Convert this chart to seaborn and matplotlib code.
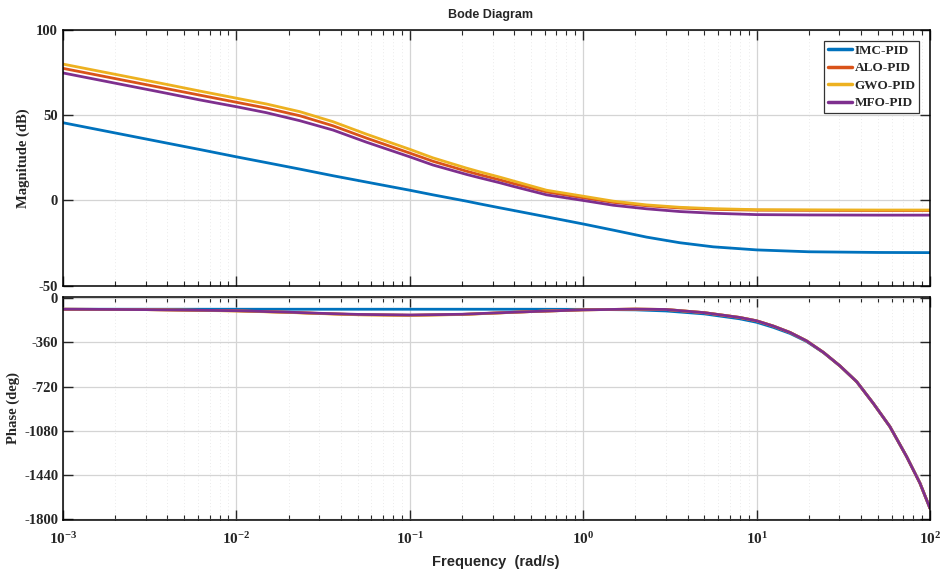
import numpy as np
import pandas as pd
import matplotlib
matplotlib.use('Agg')
import matplotlib.pyplot as plt
import seaborn as sns
from matplotlib.ticker import LogLocator, NullFormatter

# values
controllers = ['IMC-PID', 'ALO-PID', 'GWO-PID', 'MFO-PID']
colors = ['#0072BD', '#D95319', '#EDB120', '#7E2F8E']

w_mag = [0.001, 0.002, 0.004, 0.00614, 0.01, 0.0149, 0.0232, 0.0361, 0.0562,
         0.1, 0.136, 0.212, 0.253, 0.33, 0.394, 0.615, 1, 1.49, 2.32, 3.61,
         5.62, 10, 20, 50, 100]
mag_imc = [45.6, 39.6, 33.6, 29.9, 25.6, 22.2, 18.4, 14.5, 10.8,
           6.0, 3.3, -0.4, -2.0, -4.3, -5.8, -9.6, -13.8, -17.4, -21.5, -24.8,
           -27.2, -29.0, -30.1, -30.5, -30.6]
mag_alo = [77.5, 71.5, 65.5, 61.8, 57.6, 54.2, 49.7, 43.8, 36.6,
           27.8, 23.0, 17.2, 15.1, 12.1, 10.0, 5.0, 1.6, -1.1, -3.1, -4.4,
           -5.2, -5.7, -5.8, -5.9, -5.9]
mag_gwo = [80.0, 74.0, 68.0, 64.2, 60.0, 56.6, 52.1, 46.2, 38.9,
           30.0, 25.0, 19.0, 16.8, 13.7, 11.5, 6.0, 2.5, -0.4, -2.6, -4.0,
           -4.8, -5.4, -5.5, -5.6, -5.6]
mag_mfo = [74.8, 68.8, 62.8, 59.0, 55.0, 51.5, 46.8, 41.3, 34.2,
           25.6, 20.8, 15.3, 13.3, 10.4, 8.3, 3.3, 0.0, -2.8, -4.9, -6.5,
           -7.5, -8.3, -8.5, -8.6, -8.6]

w_ph = [0.001, 0.003, 0.01, 0.02, 0.03, 0.05, 0.1, 0.2, 0.3, 0.5, 1, 2, 3, 5,
        8, 10, 12.5, 15.6, 19.4, 24.3, 30.3, 37.8, 47.1, 58.7, 73.3, 87.5, 100]
ph_imc = [-90, -90, -90, -90, -90, -90, -90, -90, -90, -90, -91, -95, -104, -128,
          -168, -196, -238, -287, -352, -443, -552, -680, -856, -1045, -1289, -1505, -1710]
ph_alo = [-90, -93, -103, -115, -124, -134, -139, -132, -122, -109, -95, -89, -92, -118,
          -157, -184, -227, -279, -347, -441, -552, -680, -856, -1045, -1289, -1505, -1710]
ph_gwo = [-90, -93, -104, -116, -125, -135, -140, -133, -122, -109, -95, -89, -92, -118,
          -157, -184, -227, -279, -347, -441, -552, -680, -856, -1045, -1289, -1505, -1710]
ph_mfo = [-90, -93, -102, -114, -123, -132, -137, -131, -121, -109, -95, -89, -92, -118,
          -157, -184, -227, -279, -347, -441, -552, -680, -856, -1045, -1289, -1505, -1710]

mag_df = pd.concat([pd.DataFrame({'w': w_mag, 'val': v, 'ctrl': c})
                    for c, v in zip(controllers, [mag_imc, mag_alo, mag_gwo, mag_mfo])])
ph_df = pd.concat([pd.DataFrame({'w': w_ph, 'val': v, 'ctrl': c})
                   for c, v in zip(controllers, [ph_imc, ph_alo, ph_gwo, ph_mfo])])

sns.set_style('ticks')
plt.rcParams['font.family'] = ['Liberation Serif', 'DejaVu Serif']
plt.rcParams['font.weight'] = 'bold'
plt.rcParams['mathtext.fontset'] = 'custom'
plt.rcParams['mathtext.bf'] = 'Liberation Serif:bold'
plt.rcParams['mathtext.rm'] = 'Liberation Serif:bold'
plt.rcParams['axes.unicode_minus'] = False
plt.rcParams['lines.solid_joinstyle'] = 'round'

fig = plt.figure(figsize=(9.4, 5.75), dpi=100)
ax1 = fig.add_axes([63/940, 1-285.7/575, 867/940, 255.7/575])
ax2 = fig.add_axes([63/940, 1-520/575, 867/940, 223.3/575])

pal = dict(zip(controllers, colors))
sns.lineplot(data=mag_df, x='w', y='val', hue='ctrl', hue_order=controllers,
             palette=pal, linewidth=2.0, ax=ax1, sort=False, estimator=None)
sns.lineplot(data=ph_df, x='w', y='val', hue='ctrl', hue_order=controllers,
             palette=pal, linewidth=2.0, ax=ax2, sort=False, estimator=None,
             legend=False)

for ax in (ax1, ax2):
    ax.set_xscale('log')
    ax.set_xlim(1e-3, 1e2)
    ax.xaxis.set_minor_locator(LogLocator(base=10, subs=np.arange(2, 10), numticks=20))
    ax.xaxis.set_minor_formatter(NullFormatter())
    ax.grid(which='major', color='#d4d4d4', linewidth=0.9, linestyle='-')
    ax.grid(which='minor', axis='x', color='#e4e4e4', linewidth=0.6, linestyle=(0, (1, 3)))
    ax.tick_params(which='major', direction='in', length=7, width=1,
                   top=True, right=True, labelsize=10.5)
    ax.tick_params(which='minor', direction='in', length=3.5, width=0.8,
                   top=True, right=True)
    for s in ax.spines.values():
        s.set_linewidth(1.1)
        s.set_color('black')
    ax.set_axisbelow(True)
    ax.set_xlabel('')

ax1.set_ylim(-50, 100)
ax1.set_yticks([-50, 0, 50, 100])
ax1.set_yticklabels(['-50', '0', '50', '100'])
ax1.tick_params(axis='x', labelbottom=False)
ax1.set_ylabel('Magnitude (dB)', fontsize=10.5, fontweight='bold')
ax1.yaxis.set_label_coords(-0.038, 0.5)

ax2.set_ylim(-1805, 12)
ph_ticks = [0, -360, -720, -1080, -1440, -1800]
ax2.set_yticks(ph_ticks)
ax2.set_yticklabels([str(t) for t in ph_ticks])
ax2.set_xticks([1e-3, 1e-2, 1e-1, 1e0, 1e1, 1e2])
ax2.set_xticklabels([r'$\mathbf{10^{%d}}$' % e for e in range(-3, 3)])
ax2.tick_params(axis='x', labelsize=11, pad=8)
ax2.set_ylabel('Phase (deg)', fontsize=10.5, fontweight='bold')
ax2.yaxis.set_label_coords(-0.05, 0.5)

fig.text(496/940, 1-562/575, 'Frequency  (rad/s)', ha='center', va='center',
         fontsize=10.5, fontweight='bold', family=['Liberation Sans', 'DejaVu Sans'])
fig.text(490/940, 1-15/575, 'Bode Diagram', ha='center', va='center',
         fontsize=9, fontweight='bold', family=['Liberation Sans', 'DejaVu Sans'])

leg = ax1.legend(loc='upper right', fontsize=9.5, frameon=True, fancybox=False,
                 edgecolor='#333333', framealpha=1, handlelength=1.8,
                 handletextpad=0.2, borderpad=0.3, labelspacing=0.4,
                 borderaxespad=0.8, title=None)
leg.get_frame().set_linewidth(0.9)
for t in leg.get_texts():
    t.set_fontweight('bold')
for l in leg.get_lines():
    l.set_linewidth(2.5)

fig.savefig('out.png', dpi=100)
